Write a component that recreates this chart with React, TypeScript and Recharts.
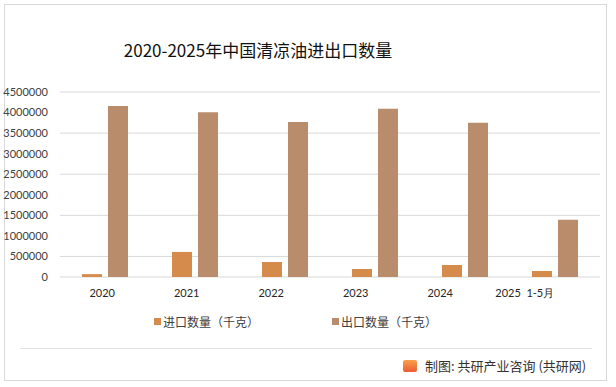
import React from "react";
import {
  BarChart,
  Bar,
  XAxis,
  YAxis,
  CartesianGrid,
} from "recharts";

const YEARS = ["2020", "2021", "2022", "2023", "2024", "2025  1-5月"];
const IMPORT_QTY = [70000, 610000, 365000, 195000, 292000, 146000];
const EXPORT_QTY = [4160000, 4010000, 3770000, 4090000, 3750000, 1390000];
const Y_TICKS = [0, 500000, 1000000, 1500000, 2000000, 2500000, 3000000, 3500000, 4000000, 4500000];

const IMPORT_COLOR = "#D48B4B";
const EXPORT_COLOR = "#B98D6B";
const NUM_FONT = "Lato, 'Noto Sans', sans-serif";
const CJK_FONT = "'Noto Sans CJK SC', 'Noto Sans', sans-serif";

const data = YEARS.map((year, i) => ({
  year,
  importQty: IMPORT_QTY[i],
  exportQty: EXPORT_QTY[i],
}));

function YearTick(props: any) {
  const { x, y, payload } = props;
  return (
    <text
      x={x}
      y={y}
      dy="0.71em"
      textAnchor="middle"
      fill="#262626"
      fontSize={11}
      fontFamily={NUM_FONT}
      style={{ whiteSpace: "pre" }}
    >
      {payload.value}
    </text>
  );
}

function LegendItem({ color, label }: { color: string; label: string }) {
  return (
    <div style={{ display: "flex", alignItems: "center" }}>
      <span style={{ width: 7, height: 7, background: color, marginRight: 2 }} />
      <span style={{ fontSize: 12, color: "#404040", fontFamily: CJK_FONT }}>{label}</span>
    </div>
  );
}

export default function App() {
  return (
    <div style={{ position: "relative", width: 616, height: 387, background: "#fff", overflow: "hidden" }}>
      <style>{`body{margin:0}`}</style>
      {/* outer frame */}
      <div
        style={{
          position: "absolute",
          left: 4,
          top: 4,
          width: 603,
          height: 377,
          border: "1px solid #d9d9d9",
          boxSizing: "border-box",
        }}
      />
      <div
        style={{
          position: "absolute",
          left: 0,
          top: 38,
          width: 516,
          textAlign: "center",
          fontSize: 17,
          fontFamily: CJK_FONT,
          color: "#111",
          lineHeight: "24px",
        }}
      >
        2020-2025年中国清凉油进出口数量
      </div>

      <div style={{ position: "absolute", left: 0, top: 0 }}>
        <BarChart
          width={616}
          height={387}
          data={data}
          margin={{ top: 92, right: 16, left: 4, bottom: 80 }}
          barGap={6}
          barSize={20}
        >
          <CartesianGrid xAxisId="bars" vertical={false} stroke="#d9d9d9" />
          <XAxis xAxisId="bars" dataKey="year" hide height={0} />
          <XAxis
            xAxisId="labels"
            dataKey="year"
            height={30}
            padding={{ left: 0, right: 33 }}
            axisLine={false}
            tickLine={false}
            tickSize={0}
            tickMargin={12}
            interval={0}
            tick={<YearTick />}
          />
          <YAxis
            width={56}
            domain={[0, 4500000]}
            ticks={Y_TICKS}
            axisLine={false}
            tickLine={false}
            tickSize={0}
            tickMargin={12}
            tick={{ fontSize: 11, fill: "#404040", fontFamily: NUM_FONT }}
          />
          <Bar xAxisId="bars" dataKey="importQty" name="进口数量（千克）" fill={IMPORT_COLOR} isAnimationActive={false} />
          <Bar xAxisId="bars" dataKey="exportQty" name="出口数量（千克）" fill={EXPORT_COLOR} isAnimationActive={false} />
        </BarChart>
      </div>

      {/* legend */}
      <div style={{ position: "absolute", left: 154, top: 313, display: "flex", gap: 73 }}>
        <LegendItem color={IMPORT_COLOR} label="进口数量（千克）" />
        <LegendItem color={EXPORT_COLOR} label="出口数量（千克）" />
      </div>

      {/* footer */}
      <div style={{ position: "absolute", left: 20, top: 348, width: 572, height: 1, background: "#e3e3e3" }} />
      <div
        style={{
          position: "absolute",
          left: 403,
          top: 356,
          display: "flex",
          alignItems: "center",
          fontFamily: CJK_FONT,
          fontSize: 13,
          color: "#333",
        }}
      >
        <span
          style={{
            width: 14,
            height: 12,
            borderRadius: 2,
            background: "linear-gradient(180deg, #F7A14A 0%, #EE5A32 100%)",
            marginRight: 8,
          }}
        />
        制图: 共研产业咨询 (共研网)
      </div>
    </div>
  );
}
